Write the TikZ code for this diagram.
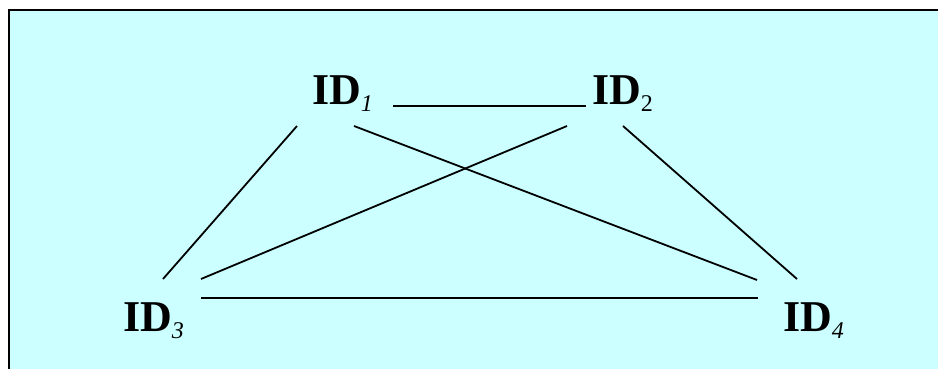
\documentclass[tikz,border=0pt]{standalone}
\usepackage{fontspec}
\setmainfont{Liberation Serif}
\definecolor{panel}{HTML}{CCFFFF}
\newcommand{\idlabel}[2]{{\fontsize{44}{44}\selectfont\bfseries ID}\raisebox{-7pt}{\fontsize{24}{24}\selectfont #2{#1}}}

\begin{document}
\begin{tikzpicture}
[x=1pt,y=-1pt,
 every node/.style={inner sep=0mm,outer sep=0mm,anchor=base west},
 idbox/.style={},
 link/.style={draw=black,line width=1.8pt}]
\useasboundingbox (0,0) rectangle (938,369);
\fill[panel] (9,10) rectangle (938,369);
\draw[line width=2.2pt] (9,369) -- (9,10) -- (938,10);
\node[idbox] (id1) at (312,105) {\idlabel{1}{\itshape}};
\node[idbox] (id2) at (592,105) {\idlabel{2}{}};
\node[idbox] (id3) at (123,331) {\idlabel{3}{\itshape}};
\node[idbox] (id4) at (783,331) {\idlabel{4}{\itshape}};
\path[link] ([shift={(81,1)}]id1.base west)   -- ([shift={(-6,1)}]id2.base west);
\path[link] ([shift={(-15,21)}]id1.base west) -- ([shift={(40,-52)}]id3.base west);
\path[link] ([shift={(42,21)}]id1.base west)  -- ([shift={(-26,-51)}]id4.base west);
\path[link] ([shift={(-25,21)}]id2.base west) -- ([shift={(78,-52)}]id3.base west);
\path[link] ([shift={(31,21)}]id2.base west)  -- ([shift={(14,-52)}]id4.base west);
\path[link] ([shift={(78,-33)}]id3.base west) -- ([shift={(-25,-33)}]id4.base west);
\end{tikzpicture}
\end{document}
